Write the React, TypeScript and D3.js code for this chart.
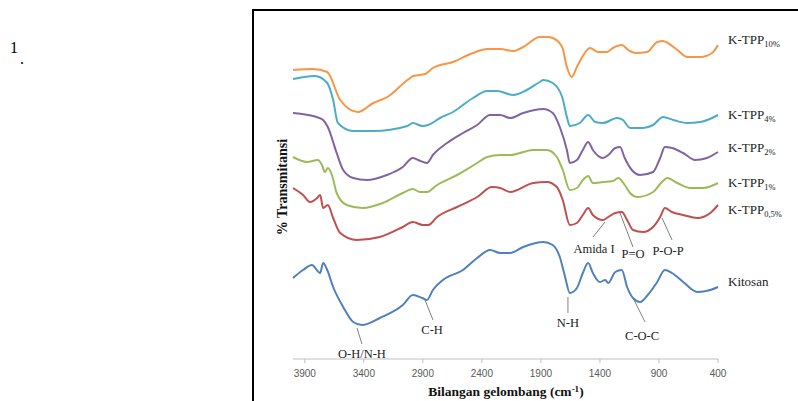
import React from 'react';
import * as d3 from 'd3';

// wavenumber (cm-1), transmittance (arbitrary, offset per sample)
const kitosan = [
  [4000, 82], [3915, 90], [3840, 95], [3770, 87], [3745, 97], [3710, 90], [3660, 73], [3575, 53],
  [3490, 38], [3415, 35], [3265, 42], [3070, 55], [2985, 65], [2905, 62], [2865, 60], [2815, 70],
  [2730, 80], [2560, 90], [2440, 102], [2330, 110], [2245, 107], [2160, 107], [2050, 113], [1880, 118],
  [1800, 115], [1740, 103], [1695, 83], [1655, 67], [1595, 72], [1545, 87], [1500, 97], [1460, 87],
  [1400, 78], [1355, 80], [1330, 77], [1270, 88], [1215, 90], [1170, 73], [1120, 62], [1060, 58],
  [995, 65], [915, 78], [850, 90], [790, 87], [695, 78], [575, 68], [465, 70], [400, 73],
];
const tpp05 = [
  [4000, 172], [3915, 165], [3855, 158], [3795, 162], [3770, 165], [3745, 152], [3705, 155], [3660, 142],
  [3600, 127], [3460, 120], [3265, 123], [3070, 133], [2985, 138], [2900, 135], [2855, 135], [2780, 143],
  [2610, 153], [2440, 163], [2315, 173], [2245, 172], [2160, 168], [1965, 177], [1850, 178], [1765, 173],
  [1715, 160], [1655, 135], [1595, 137], [1545, 145], [1500, 152], [1460, 145], [1375, 140], [1330, 143],
  [1270, 147], [1215, 148], [1170, 140], [1120, 130], [1035, 128], [950, 133], [890, 143], [850, 152],
  [790, 148], [695, 145], [575, 142], [465, 147], [400, 155],
];
const tpp1 = [
  [4000, 203], [3880, 198], [3790, 200], [3755, 195], [3730, 188], [3705, 192], [3670, 185], [3630, 167],
  [3545, 155], [3410, 152], [3240, 157], [3070, 167], [2985, 171], [2925, 168], [2865, 168], [2780, 175],
  [2610, 185], [2440, 197], [2355, 203], [2245, 205], [2160, 205], [1965, 210], [1850, 210], [1765, 203],
  [1715, 190], [1655, 170], [1595, 172], [1545, 180], [1500, 184], [1460, 177], [1375, 178], [1290, 179],
  [1245, 182], [1190, 175], [1145, 167], [1080, 163], [950, 168], [875, 178], [830, 182], [745, 177],
  [635, 172], [525, 172], [400, 177],
];
const tpp2 = [
  [4000, 247], [3800, 243], [3745, 240], [3705, 233], [3630, 207], [3575, 190], [3490, 182], [3375, 180],
  [3205, 185], [3070, 193], [2985, 202], [2940, 200], [2865, 197], [2815, 205], [2695, 217], [2560, 227],
  [2440, 235], [2330, 245], [2245, 245], [2160, 242], [2050, 247], [1880, 251], [1800, 247], [1740, 233],
  [1680, 210], [1655, 197], [1595, 200], [1545, 210], [1500, 218], [1460, 210], [1375, 202], [1330, 205],
  [1270, 212], [1230, 213], [1190, 202], [1130, 190], [1060, 185], [950, 188], [890, 202], [850, 213],
  [790, 212], [695, 207], [595, 200], [495, 202], [400, 208],
];
const tpp4 = [
  [4000, 281], [3815, 284], [3710, 277], [3660, 260], [3620, 237], [3490, 229], [3320, 229], [3030, 234],
  [2985, 237], [2905, 234], [2855, 235], [2755, 242], [2645, 248], [2475, 262], [2355, 269], [2270, 269],
  [2135, 265], [2020, 270], [1910, 278], [1880, 280], [1800, 277], [1720, 263], [1680, 243], [1655, 234],
  [1570, 237], [1500, 245], [1440, 238], [1375, 237], [1255, 242], [1205, 240], [1145, 232], [1035, 232],
  [950, 235], [865, 243], [780, 240], [660, 237], [550, 238], [450, 242], [400, 245],
];
const tpp10 = [
  [4000, 290], [3830, 291], [3710, 288], [3600, 260], [3450, 248], [3320, 257], [3200, 263], [3030, 280],
  [2980, 284], [2880, 286], [2815, 292], [2645, 298], [2475, 307], [2355, 311], [2245, 311], [2135, 309],
  [2050, 313], [1910, 323], [1840, 323], [1800, 322], [1720, 313], [1680, 293], [1640, 283], [1595, 293],
  [1550, 303], [1485, 312], [1415, 308], [1340, 308], [1290, 312], [1215, 315], [1160, 310], [1100, 307],
  [1000, 308], [915, 318], [865, 319], [825, 317], [745, 310], [660, 303], [550, 303], [450, 307], [400, 315],
];

const seriesNames = ['Kitosan', 'K-TPP', 'K-TPP', 'K-TPP', 'K-TPP', 'K-TPP'];
const seriesSubs = ['', '0,5%', '1%', '2%', '4%', '10%'];
const seriesData = [kitosan, tpp05, tpp1, tpp2, tpp4, tpp10];
const seriesColors = ['#4F81BD', '#C0504D', '#9BBB59', '#8064A2', '#4BACC6', '#F79646'];
const labelValues = [74, 146, 173, 208, 241, 316];

const xTicks = [3900, 3400, 2900, 2400, 1900, 1400, 900, 400];

// [label, from w, from v, to w, to v, label w, label v]
const notes: [string, number, number, number, number, number, number][] = [
  ['O-H/N-H', 3458, 32, 3416, 16, 3416, 2],
  ['C-H', 2882, 60, 2814, 40, 2822, 26],
  ['N-H', 1671, 63, 1671, 47, 1671, 33],
  ['C-O-C', 1120, 62, 1018, 38, 1043, 20],
  ['Amida I', 1357, 138, 1459, 123, 1450, 107],
  ['P=O', 1230, 147, 1120, 113, 1120, 102],
  ['P-O-P', 874, 142, 789, 120, 823, 105],
];

const W = 798;
const H = 401;

export default function App() {
  const x = d3.scaleLinear().domain([4000, 400]).range([293, 718]);
  const y = d3.scaleLinear().domain([0, 340]).range([360, 20]);
  const line = d3.line<number[]>()
    .x(d => x(d[0]))
    .y(d => y(d[1]))
    .curve(d3.curveMonotoneX);
  const axisY = 359;
  const serif = '"Liberation Serif", "Times New Roman", serif';

  return (
    <svg width={W} height={H} style={{ position: 'absolute', left: 0, top: 0, background: '#fff' }}>
      <text x={10} y={53} fontFamily={serif} fontSize={16}>1</text>
      <text x={20} y={64} fontFamily={serif} fontSize={16}>.</text>

      <rect x={253} y={10} width={W} height={H} fill="none" stroke="#000" strokeWidth={2} />

      {seriesData.map((s, i) => (
        <path key={i} d={line(s) || ''} fill="none" stroke={seriesColors[i]} strokeWidth={2} />
      ))}

      {seriesNames.map((n, i) => (
        <text key={i} x={728} y={y(labelValues[i])} fontFamily={serif} fontSize={13} fill="#222">
          {n}
          {seriesSubs[i] && <tspan fontSize={8.5} dy={3}>{seriesSubs[i]}</tspan>}
        </text>
      ))}

      {notes.map((n, i) => (
        <g key={i}>
          <line x1={x(n[1])} y1={y(n[2])} x2={x(n[3])} y2={y(n[4])} stroke="#808080" strokeWidth={1} />
          <text x={x(n[5])} y={y(n[6])} textAnchor="middle" fontFamily={serif} fontSize={12.5} fill="#222">{n[0]}</text>
        </g>
      ))}

      <line x1={x(4000)} x2={x(400)} y1={axisY} y2={axisY} stroke="#BFBFBF" strokeWidth={1} />
      {xTicks.map(t => (
        <g key={t}>
          <line x1={x(t)} x2={x(t)} y1={axisY} y2={axisY + 4} stroke="#BFBFBF" strokeWidth={1} />
          <text x={x(t)} y={377} textAnchor="middle" fontFamily='"Liberation Sans", Arial, sans-serif' fontSize={10} fill="#595959">{t}</text>
        </g>
      ))}

      <text x={506} y={396} textAnchor="middle" fontFamily={serif} fontSize={13.5} fontWeight="bold" fill="#111">
        Bilangan gelombang (cm<tspan fontSize={9} dy={-4}>-1</tspan><tspan dy={4}>)</tspan>
      </text>
      <text transform="translate(287,187) rotate(-90)" textAnchor="middle" fontFamily={serif} fontSize={14} fontWeight="bold" fill="#111">
        % Transmitansi
      </text>
    </svg>
  );
}
